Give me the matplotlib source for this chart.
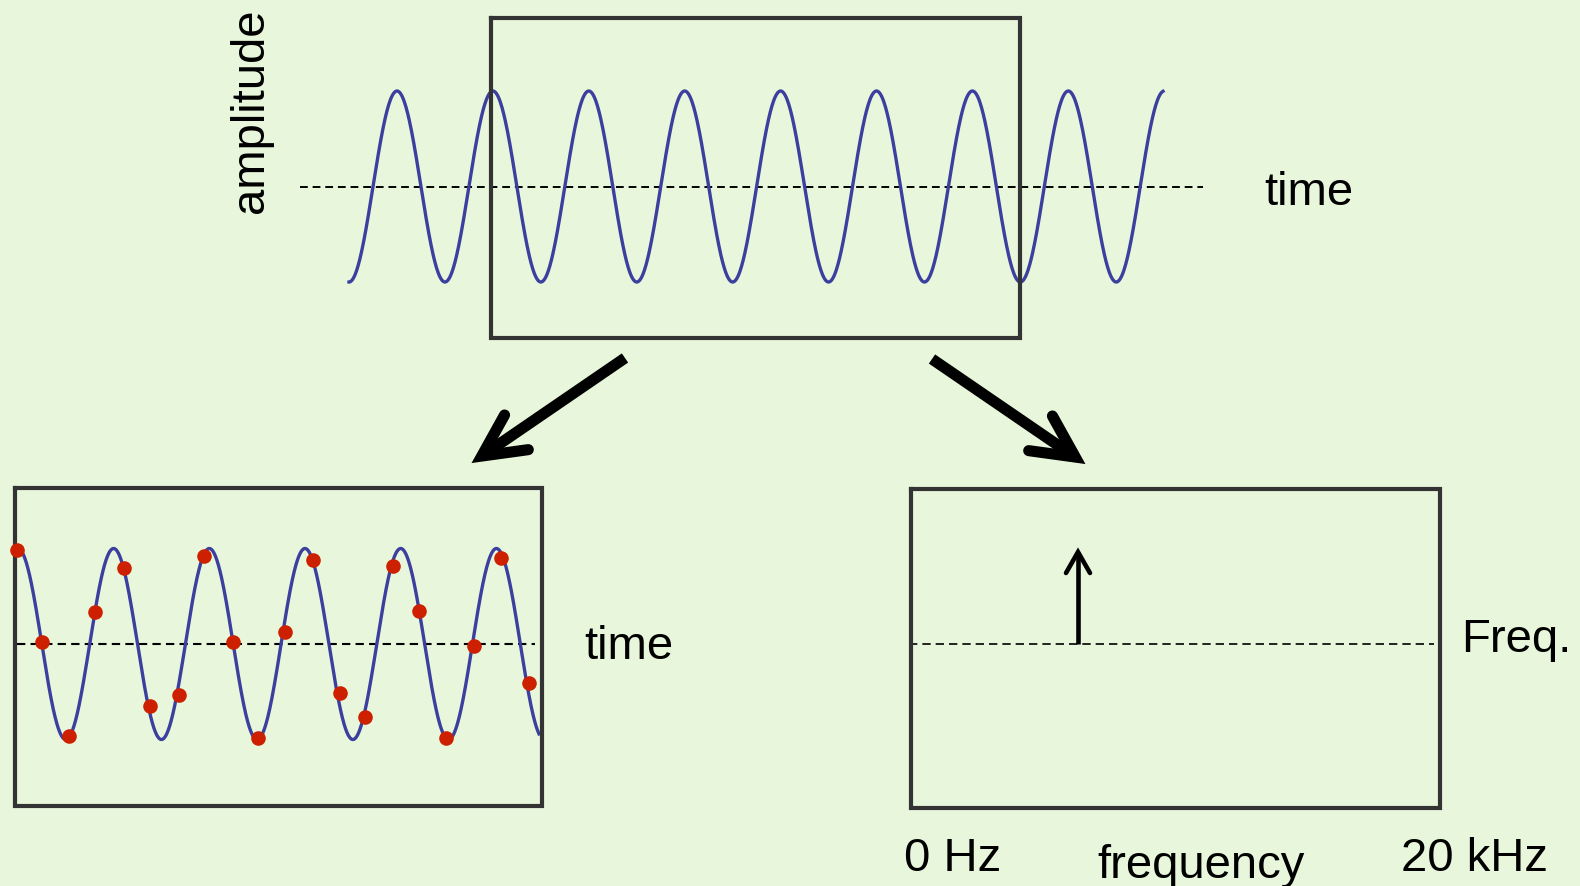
import numpy as np
import matplotlib
matplotlib.use('Agg')
import matplotlib.pyplot as plt

plt.rcParams['font.family'] = ['Liberation Sans', 'DejaVu Sans']

# pure tone shown in the top panel and the zoomed time panel (pixel units)
top_wave_start, top_wave_end = 349, 1163
top_wave_first_peak = 397
top_wave_period = 95.9
top_wave_center, top_wave_amp = 187.5, 95.5

low_wave_start, low_wave_end = 17, 539
low_wave_first_peak = 17.9
low_wave_period = 95.7
low_wave_center, low_wave_amp = 645, 95.5

# sampled values (red dots)
sample_x = [17.1, 42.1, 68.6, 94.6, 123.6, 150.0, 178.6, 204.3, 233.2, 257.5,
            284.6, 312.5, 339.6, 365.4, 392.5, 418.6, 446.4, 473.6, 501.4, 528.6]
sample_y = [550.7, 643.3, 736.7, 613.3, 569.3, 706.7, 695.7, 557.3, 643.3, 739.3,
            632.7, 560.7, 694.3, 717.7, 567.3, 611.7, 739.3, 646.7, 559.3, 684.3]

# spectrum: a single line
tone_freq_x = 1078
tone_level = 550

axis_labels = ['amplitude', 'time', 'time', 'Freq.', '0 Hz', 'frequency', '20 kHz']

BG = '#e8f7db'
BLUE = '#3c3f9e'
RED = '#cc2000'
BOX = '#333333'


def wave(x0, x1, first_peak, period, center, amp):
    x = np.linspace(x0, x1, 1500)
    y = center - amp * np.cos(2 * np.pi * (x - first_peak) / period)
    return x, y


def box(ax, x0, x1, y0, y1):
    ax.plot([x0, x1, x1, x0, x0], [y0, y0, y1, y1, y0], color=BOX, lw=3,
            solid_joinstyle='miter', zorder=3)


def arrow(ax, tail, tip, lw, head_len, head_half, tip_back):
    tail = np.array(tail, float)
    tip = np.array(tip, float)
    u = (tail - tip) / np.linalg.norm(tail - tip)
    n = np.array([-u[1], u[0]])
    p = tip + u * tip_back
    ax.plot([tail[0], p[0]], [tail[1], p[1]], color='black', lw=lw,
            solid_capstyle='butt', zorder=4)
    a1 = tip + u * head_len + n * head_half
    a2 = tip + u * head_len - n * head_half
    ax.plot([a1[0], p[0], a2[0]], [a1[1], p[1], a2[1]], color='black', lw=lw,
            solid_joinstyle='miter', solid_capstyle='round', zorder=4)


fig = plt.figure(figsize=(15.8, 8.87), dpi=100)
fig.patch.set_facecolor(BG)
ax = fig.add_axes([0, 0, 1, 1])
ax.set_facecolor(BG)
ax.set_xlim(0, 1580)
ax.set_ylim(887, 0)
ax.axis('off')

# top panel
x, y = wave(top_wave_start, top_wave_end, top_wave_first_peak, top_wave_period,
            top_wave_center, top_wave_amp)
ax.plot(x, y, color=BLUE, lw=2.4, zorder=2)
ax.plot([300, 1203], [top_wave_center, top_wave_center], color='black', lw=1.4,
        dashes=(4, 2.5), zorder=1)
box(ax, 491, 1020, 18.5, 339)

# arrows
arrow(ax, (625, 359), (476, 461), 8, 49, 21, 7)
arrow(ax, (932, 360), (1081, 462), 8, 49, 21, 7)

# bottom left: sampled signal
x, y = wave(low_wave_start, low_wave_end, low_wave_first_peak, low_wave_period,
            low_wave_center, low_wave_amp)
ax.plot(x, y, color=BLUE, lw=2.4, zorder=2)
ax.plot([17, 535], [low_wave_center, low_wave_center], color='black', lw=1.5,
        dashes=(4, 2.5), zorder=1)
ax.plot(sample_x, sample_y, 'o', color=RED, markersize=10.5, markeredgewidth=0, zorder=5)
box(ax, 14.5, 541.5, 488.5, 807.5)

# bottom right: spectrum
ax.plot([909, 1434], [low_wave_center, low_wave_center], color='black', lw=1.2,
        dashes=(5, 3), zorder=1)
arrow(ax, (tone_freq_x, low_wave_center), (tone_freq_x, tone_level), 3.3, 24, 12, 3)
box(ax, 910.5, 1440, 489.5, 809)

fs = 34
ax.text(251, 111, axis_labels[0], rotation=90, ha='center', va='center', fontsize=fs)
ax.text(1264, 205, axis_labels[1], ha='left', va='baseline', fontsize=fs)
ax.text(584, 659, axis_labels[2], ha='left', va='baseline', fontsize=fs)
ax.text(1461, 652, axis_labels[3], ha='left', va='baseline', fontsize=fs)
ax.text(904, 871, axis_labels[4], ha='left', va='baseline', fontsize=fs)
ax.text(1097, 878, axis_labels[5], ha='left', va='baseline', fontsize=fs)
ax.text(1401, 871, axis_labels[6], ha='left', va='baseline', fontsize=fs)

fig.savefig('out.png', dpi=100, facecolor=BG)
